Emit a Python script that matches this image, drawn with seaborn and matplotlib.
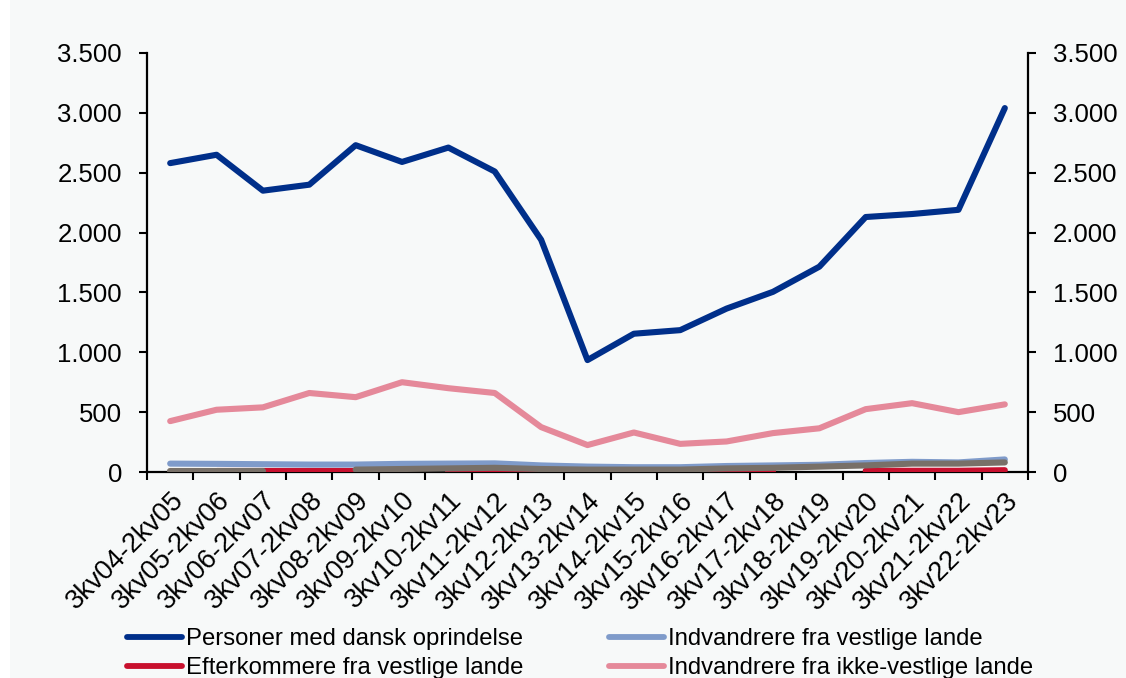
import numpy as np
import pandas as pd
import matplotlib
matplotlib.use('Agg')
import matplotlib.pyplot as plt
from matplotlib.lines import Line2D
from matplotlib.ticker import FuncFormatter, FixedLocator
import seaborn as sns

# Data
periods = ['3kv04-2kv05', '3kv05-2kv06', '3kv06-2kv07', '3kv07-2kv08', '3kv08-2kv09',
           '3kv09-2kv10', '3kv10-2kv11', '3kv11-2kv12', '3kv12-2kv13', '3kv13-2kv14',
           '3kv14-2kv15', '3kv15-2kv16', '3kv16-2kv17', '3kv17-2kv18', '3kv18-2kv19',
           '3kv19-2kv20', '3kv20-2kv21', '3kv21-2kv22', '3kv22-2kv23']

dansk = [2580, 2650, 2350, 2400, 2730, 2590, 2710, 2510, 1940, 935,
         1155, 1185, 1365, 1505, 1715, 2130, 2155, 2190, 3040]
indv_vest = [70, 68, 65, 62, 62, 68, 70, 72, 55, 45,
             40, 40, 50, 55, 60, 75, 85, 80, 105]
eft_vest = [np.nan, 5, 5, 5, 5, np.nan, 5, 5, 5, np.nan,
            np.nan, 5, 5, 5, np.nan, 10, 10, 10, 15]
indv_ikkevest = [425, 520, 540, 660, 625, 750, 700, 660, 375, 225,
                 330, 235, 255, 325, 365, 525, 575, 500, 565]
eft_ikkevest = [10, 10, 10, np.nan, 20, 25, 30, 35, 25, 20,
                20, 20, 30, 35, 45, 55, 70, 70, 80]

colors = {'Personer med dansk oprindelse': '#002F8A',
          'Indvandrere fra vestlige lande': '#7F9BCA',
          'Efterkommere fra vestlige lande': '#C8102E',
          'Indvandrere fra ikke-vestlige lande': '#E5899A',
          'Efterkommere fra ikke-vestlige lande': '#787068'}

series = {'Personer med dansk oprindelse': dansk,
          'Indvandrere fra vestlige lande': indv_vest,
          'Efterkommere fra vestlige lande': eft_vest,
          'Indvandrere fra ikke-vestlige lande': indv_ikkevest,
          'Efterkommere fra ikke-vestlige lande': eft_ikkevest}

sns.set_style('ticks')
plt.rcParams['font.family'] = ['Liberation Sans', 'DejaVu Sans']
plt.rcParams['text.color'] = 'black'
plt.rcParams['xtick.color'] = 'black'
plt.rcParams['ytick.color'] = 'black'

bg = '#F7F9F9'
fig = plt.figure(figsize=(11.26, 6.78), dpi=100, facecolor='white')
fig.patches.append(plt.Rectangle((10 / 1126, 0), 1, 1, transform=fig.transFigure,
                                 facecolor=bg, edgecolor='none', zorder=-10))
ax = fig.add_axes([147 / 1126, 1 - 472 / 678, 881 / 1126, 419 / 678])
ax.set_facecolor(bg)

x = np.arange(len(periods))
draw_order = ['Indvandrere fra ikke-vestlige lande', 'Indvandrere fra vestlige lande',
              'Efterkommere fra vestlige lande', 'Efterkommere fra ikke-vestlige lande',
              'Personer med dansk oprindelse']

# plot each unbroken run so missing values leave gaps
for i, name in enumerate(draw_order):
    vals = pd.Series(series[name], dtype=float)
    df = pd.DataFrame({'x': x, 'y': vals})
    run_id = vals.isna().cumsum()
    for _, seg in df[vals.notna()].groupby(run_id[vals.notna()]):
        if len(seg) < 2:
            continue
        sns.lineplot(data=seg, x='x', y='y', ax=ax, color=colors[name], linewidth=4.4,
                     estimator=None, sort=False, zorder=3 + i, legend=False)
        ax.lines[-1].set_solid_capstyle('round')

ax.set_xlim(-0.5, len(periods) - 0.5)
ax.set_ylim(0, 3500)
ax.set_xlabel('')
ax.set_ylabel('')

fmt = FuncFormatter(lambda v, p: f'{v:,.0f}'.replace(',', '.'))
yt = np.arange(0, 3501, 500)
ax.set_yticks(yt)
ax.yaxis.set_major_formatter(fmt)

ax.xaxis.set_major_locator(FixedLocator(x))
ax.set_xticklabels(periods, rotation=45, ha='right', rotation_mode='anchor')
ax.xaxis.set_minor_locator(FixedLocator(np.arange(-0.5, len(periods), 1)))
ax.tick_params(axis='x', which='major', length=0, labelsize=19.5, pad=11)
ax.tick_params(axis='x', which='minor', length=6, width=1.5, direction='out')
ax.tick_params(axis='y', length=6, width=1.5, direction='out', labelsize=18.5, pad=12)

ax2 = ax.twinx()
ax2.set_ylim(0, 3500)
ax2.set_yticks(yt)
ax2.yaxis.set_major_formatter(fmt)
ax2.tick_params(axis='y', length=6, width=1.5, direction='out', labelsize=18.5, pad=12)

for a in (ax, ax2):
    a.spines['top'].set_visible(False)
    for s in ('left', 'right', 'bottom'):
        a.spines[s].set_linewidth(1.6)
        a.spines[s].set_color('black')
ax.spines['right'].set_visible(False)
ax2.spines['left'].set_visible(False)
ax2.spines['bottom'].set_visible(False)
ax.spines['bottom'].set_zorder(2)

# legend: only the four entries that are visible in the crop
legend_order = ['Personer med dansk oprindelse', 'Efterkommere fra vestlige lande',
                'Indvandrere fra vestlige lande', 'Indvandrere fra ikke-vestlige lande']
handles = [Line2D([0], [0], color=colors[n], linewidth=4.2) for n in legend_order]
fig.legend(handles, legend_order, ncol=2, loc='upper left',
           bbox_to_anchor=(127 / 1126, 1 - 628 / 678), frameon=False,
           fontsize=17.2, handlelength=2.3, handletextpad=0.17, labelspacing=0.31,
           columnspacing=3.6, borderpad=0, borderaxespad=0)

fig.savefig('out.png', dpi=100, facecolor=fig.get_facecolor())
